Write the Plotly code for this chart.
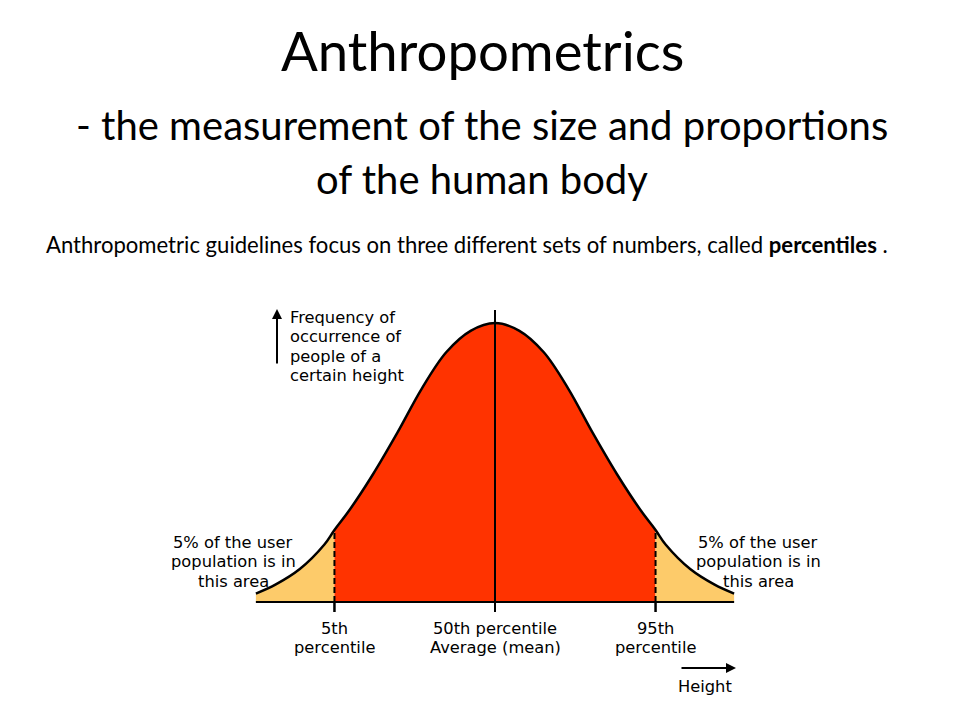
import plotly.graph_objects as go

# ---------------- data ----------------
# height expressed in standard deviations from the mean
height_z = [-2.45, -2.25, -2.0, -1.75, -1.645, -1.5, -1.25, -1.0, -0.75, -0.5, -0.25, 0.0,
            0.25, 0.5, 0.75, 1.0, 1.25, 1.5, 1.645, 1.75, 2.0, 2.25, 2.45]
# relative frequency of occurrence (peak = 1)
frequency = [0.03, 0.062, 0.118, 0.205, 0.258, 0.325, 0.458, 0.607, 0.765, 0.895, 0.972, 1.0,
             0.972, 0.895, 0.765, 0.607, 0.458, 0.325, 0.258, 0.205, 0.118, 0.062, 0.03]

percentile_z = [-1.645, 0.0, 1.645]
percentile_labels = [["5th", "percentile"], ["50th percentile", "Average (mean)"], ["95th", "percentile"]]
tail_label = ["5% of the user", "population is in", "this area"]
freq_label = ["Frequency of", "occurrence of", "people of a", "certain height"]
height_label = "Height"

title_main = "Anthropometrics"
title_line2 = "- the measurement of the size and proportions"
title_line3 = "of the human body"
subtitle = "Anthropometric guidelines focus on three different sets of numbers, called <b>percentiles</b> ."

# ---------------- layout constants ----------------
W, H = 960, 720
PAGE_OFF = 8                   # default body margin of the html page
X0_PX, SIG_PX = 495, 97.6      # pixel of the mean, pixels per std-dev
Y0_PX, PEAK_PX = 602, 279      # baseline pixel, pixels for peak height

RED = "#FF3300"
YELLOW = "#FDCB6A"
CHART_FONT = "DejaVu Sans"
TITLE_FONT = "Lato"
LINE_GAP = 19.5


def px(x):
    return (x - PAGE_OFF) / W


def py(y):
    return 1 - (y - PAGE_OFF) / H


lo, hi = percentile_z[0], percentile_z[2]
seg_left = [(x, f) for x, f in zip(height_z, frequency) if x <= lo]
seg_mid = [(x, f) for x, f in zip(height_z, frequency) if lo <= x <= hi]
seg_right = [(x, f) for x, f in zip(height_z, frequency) if x >= hi]

fig = go.Figure()
for seg, col in [(seg_left, YELLOW), (seg_mid, RED), (seg_right, YELLOW)]:
    fig.add_trace(go.Scatter(
        x=[p[0] for p in seg], y=[p[1] for p in seg],
        mode="lines", line=dict(width=0, shape="spline", color=col),
        fill="tozeroy", fillcolor=col, hoverinfo="skip", showlegend=False))

# outline of the curve
fig.add_trace(go.Scatter(x=height_z, y=frequency, mode="lines",
                         line=dict(color="black", width=2.5, shape="spline"),
                         hoverinfo="skip", showlegend=False))

shapes = []
# baseline
shapes.append(dict(type="line", xref="x", yref="y", x0=height_z[0], x1=height_z[-1],
                   y0=0, y1=0, line=dict(color="black", width=2)))
tick_below = -10 / PEAK_PX
for z in percentile_z:
    fz = frequency[height_z.index(z)]
    if z == 0.0:
        shapes.append(dict(type="line", xref="x", yref="y", x0=z, x1=z,
                           y0=tick_below, y1=fz + 13 / PEAK_PX,
                           line=dict(color="black", width=2)))
    else:
        shapes.append(dict(type="line", xref="x", yref="y", x0=z, x1=z,
                           y0=0, y1=fz, line=dict(color="black", width=2, dash="6px,3px")))
        shapes.append(dict(type="line", xref="x", yref="y", x0=z, x1=z,
                           y0=tick_below, y1=0, line=dict(color="black", width=2.5)))

annotations = []
cf = dict(family=CHART_FONT, size=16.3, color="black")


def text_block(lines, x_px, first_y_px, xanchor="center", xref="paper", xval=None):
    for i, ln in enumerate(lines):
        annotations.append(dict(
            x=xval if xval is not None else px(x_px), y=py(first_y_px + i * LINE_GAP),
            xref=xref, yref="paper", text=ln, showarrow=False, font=cf,
            xanchor=xanchor, yanchor="middle"))


# percentile labels
for z, lab in zip(percentile_z, percentile_labels):
    text_block(lab, None, 628, xref="x", xval=z)
# tail labels
text_block(tail_label, 233, 542)
text_block(tail_label, 758, 542)
# y axis label + arrow
text_block(freq_label, 288, 317, xanchor="left")
annotations.append(dict(x=px(277), y=py(309), xref="paper", yref="paper", text="",
                        showarrow=True, arrowhead=2, arrowsize=1, arrowwidth=2,
                        arrowcolor="black", ax=0, ay=56))
# x axis label + arrow
text_block([height_label], 705, 686)
annotations.append(dict(x=px(736), y=py(668), xref="paper", yref="paper", text="",
                        showarrow=True, arrowhead=2, arrowsize=1, arrowwidth=2,
                        arrowcolor="black", ax=-56, ay=0))
# titles
annotations.append(dict(x=px(482), y=py(50), xref="paper", yref="paper", text=title_main,
                        showarrow=False, font=dict(family=TITLE_FONT, size=54.5, color="black"),
                        xanchor="center", yanchor="middle"))
annotations.append(dict(x=px(482), y=py(125), xref="paper", yref="paper", text=title_line2,
                        showarrow=False, font=dict(family=TITLE_FONT, size=40, color="black"),
                        xanchor="center", yanchor="middle"))
annotations.append(dict(x=px(482), y=py(179), xref="paper", yref="paper", text=title_line3,
                        showarrow=False, font=dict(family=TITLE_FONT, size=40, color="black"),
                        xanchor="center", yanchor="middle"))
annotations.append(dict(x=px(467), y=py(245), xref="paper", yref="paper", text=subtitle,
                        showarrow=False, font=dict(family=TITLE_FONT, size=22.1, color="black"),
                        xanchor="center", yanchor="middle"))

fig.update_layout(
    width=W, height=H, margin=dict(l=0, r=0, t=0, b=0),
    paper_bgcolor="white", plot_bgcolor="white",
    xaxis=dict(range=[-(X0_PX - PAGE_OFF) / SIG_PX, (W - X0_PX + PAGE_OFF) / SIG_PX],
               visible=False, fixedrange=True),
    yaxis=dict(range=[(Y0_PX - PAGE_OFF - H) / PEAK_PX, (Y0_PX - PAGE_OFF) / PEAK_PX],
               visible=False, fixedrange=True),
    shapes=shapes, annotations=annotations, showlegend=False,
)

fig.write_html("out.html")
